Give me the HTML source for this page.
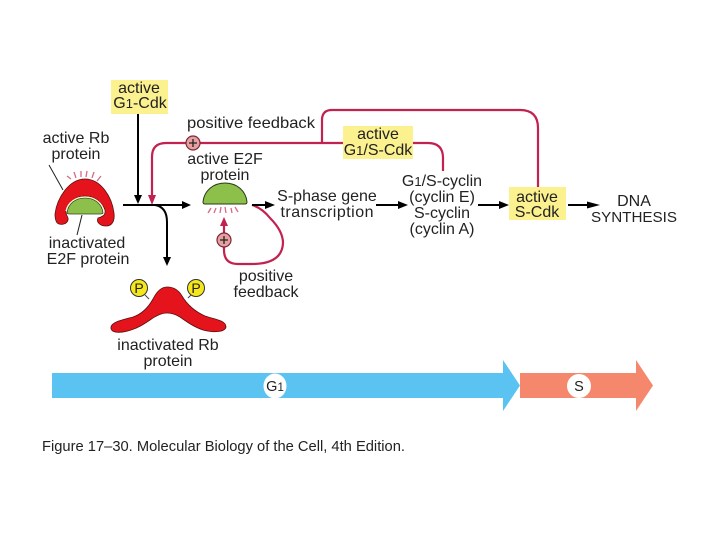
<!DOCTYPE html>
<html><head><meta charset="utf-8">
<style>
html,body{margin:0;padding:0;background:#fff;width:720px;height:540px;overflow:hidden}
svg{display:block}
text{font-family:"Liberation Sans",sans-serif;fill:#222;font-size:16px}
.m{text-anchor:middle}
.s{font-size:13px}
</style></head><body>
<svg width="720" height="540" viewBox="0 0 720 540" xmlns="http://www.w3.org/2000/svg">
<!-- yellow boxes -->
<rect x="111" y="80" width="57" height="34" fill="#fbf18f"/>
<rect x="343" y="126" width="70" height="33" fill="#fbf18f"/>
<rect x="509" y="187" width="57" height="33" fill="#fbf18f"/>

<!-- crimson feedback -->
<g fill="none" stroke="#c2224f" stroke-width="2.2">
<path d="M343 143H166Q152 143 152 157V196"/>
<path d="M322 143V120Q322 110 332 110H520Q538 110 538 128V187"/>
<path d="M413 143H428Q443 143 443 158V171"/>
<path d="M252 205Q262 208 270 218Q283 231 283 243Q282 264 252 264H238Q224 264 224 250V226"/>
</g>
<path d="M148 195H156L152 205Z" fill="#c2224f"/>
<path d="M220 226H228L224 217Z" fill="#c2224f"/>
<g fill="#e6a0a0" stroke="#7a2a3a" stroke-width="1.2">
<circle cx="193" cy="143" r="7"/>
<circle cx="224" cy="240" r="7"/>
</g>
<g stroke="#222" stroke-width="1.3">
<path d="M189 143H197M193 139V147M220 240H228M224 236V244"/>
</g>

<!-- black arrows -->
<g fill="none" stroke="#000" stroke-width="2">
<path d="M138 114V196"/>
<path d="M123 205H183"/>
<path d="M155 205Q167 207 167 222V258"/>
<path d="M252 205H266"/>
<path d="M376 205H400"/>
<path d="M478 205H501"/>
<path d="M568 205H588"/>
</g>
<g fill="#000">
<path d="M134 195H142L138 204Z"/>
<path d="M182 201V209L191 205Z"/>
<path d="M163 257H171L167 266Z"/>
<path d="M265 201V209L275 205Z"/>
<path d="M398 201V209L408 205Z"/>
<path d="M499 201V209L509 205Z"/>
<path d="M587 201.500V208.500L600 205Z"/>
</g>

<!-- active Rb -->
<path d="M55 214C57 198 69 179 85 179C101 179 112 197 114 213C115 221 112 226 106 226C100 226 96 222 98 218C101 217 106 216 105 210C102 202 94 196 85 196C76 196 69 202 66 210C65 215 69 217 68 220C67 224 62 225 59 224C56 223 55 219 55 214Z" fill="#e5141c" stroke="#5a0f10" stroke-width="0.8"/>
<path d="M67 213C68 204 75 198 85 198C95 198 102 204 103 213Q103 214 100 214H70Q67 214 67 213Z" fill="#8cc04a" stroke="#33401f" stroke-width="0.8"/>
<path d="M66 211C68 202 76 197 85 197C94 197 102 202 104 211" fill="none" stroke="#fff6cc" stroke-width="1.2"/>
<g stroke="#d86a86" stroke-width="1.3">
<path d="M67 176L71 179M74 172L76 178M81 171V177M87 171L86 177M94 172L92 178M101 176L97 181"/>
</g>
<path d="M49 165L63 190" stroke="#222" stroke-width="1"/>
<path d="M82 215L77 235" stroke="#222" stroke-width="1"/>

<!-- active E2F -->
<path d="M203 202C204 191 213 183 225 183C237 183 246 191 247 202Q247 204 245 204H205Q203 204 203 202Z" fill="#8cc04a" stroke="#2a3a1a" stroke-width="1"/>
<g stroke="#d86a86" stroke-width="1.3">
<path d="M208 213L211 208M214 213L216 208M220 213L221 207M226 213L225 207M232 213L231 208M238 212L235 207"/>
</g>

<!-- inactive Rb -->
<path d="M111 327C112 322 122 320 133 317C142 314 148 308 153 299C157 291 162 287 167 287C173 287 178 289 182 296C188 306 196 312 205 316C213 319 226 320 226 327C225 332 214 333 203 330C194 327 187 322 180 317C175 314 171 313 167 313C162 313 157 315 150 320C144 324 138 328 131 330C122 333 110 334 111 327Z" fill="#e5141c" stroke="#5a0f10" stroke-width="0.8"/>
<path d="M145 295L149 299M192 294L188 298" stroke="#444" stroke-width="1"/>
<circle cx="139" cy="288" r="8.500" fill="#f6e71c" stroke="#333" stroke-width="1"/>
<circle cx="196" cy="288" r="8.500" fill="#f6e71c" stroke="#333" stroke-width="1"/>
<text class="m" x="139" y="293" style="font-size:14px">P</text>
<text class="m" x="196" y="293" style="font-size:14px">P</text>

<!-- progress bars -->
<path d="M52 373H503V360L520 385.500L503 411V398H52Z" fill="#5bc3f2"/>
<path d="M520 373H636V360L653 385.500L636 411V398H520Z" fill="#f5886c"/>
<ellipse cx="275" cy="386" rx="11.500" ry="12.500" fill="#fff"/>
<circle cx="579" cy="386" r="12" fill="#fff"/>
<text class="m" x="275" y="391" style="font-size:14.500px">G<tspan style="font-size:11.500px">1</tspan></text>
<text class="m" x="579" y="391" style="font-size:14.500px">S</text>

<!-- labels -->
<text class="m" x="139" y="93">active</text>
<text class="m" x="140" y="108">G<tspan class="s">1</tspan>-Cdk</text>
<text x="187" y="128" textLength="128" lengthAdjust="spacingAndGlyphs">positive feedback</text>
<text class="m" x="378" y="139">active</text>
<text class="m" x="378" y="155">G<tspan class="s">1</tspan>/S-Cdk</text>
<text class="m" x="76" y="143">active Rb</text>
<text class="m" x="76" y="159">protein</text>
<text class="m" x="225" y="164">active E2F</text>
<text class="m" x="225" y="180">protein</text>
<text class="m" x="87" y="248">inactivated</text>
<text class="m" x="88" y="264">E2F protein</text>
<text class="m" x="327" y="201">S-phase gene</text>
<text class="m" x="327" y="217" textLength="93" lengthAdjust="spacing">transcription</text>
<text class="m" x="442" y="186">G<tspan class="s">1</tspan>/S-cyclin</text>
<text class="m" x="442" y="202">(cyclin E)</text>
<text class="m" x="442" y="218">S-cyclin</text>
<text class="m" x="442" y="234">(cyclin A)</text>
<text class="m" x="537" y="202">active</text>
<text class="m" x="537" y="217">S-Cdk</text>
<text class="m" x="634" y="206">DNA</text>
<text class="m" x="634" y="222" style="font-size:15.200px">SYNTHESIS</text>
<text class="m" x="266" y="281">positive</text>
<text class="m" x="266" y="297">feedback</text>
<text class="m" x="168" y="350">inactivated Rb</text>
<text class="m" x="168" y="366">protein</text>
<text x="42" y="451" textLength="363" lengthAdjust="spacingAndGlyphs" style="font-size:14.500px">Figure 17–30. Molecular Biology of the Cell, 4th Edition.</text>
</svg>
</body></html>
